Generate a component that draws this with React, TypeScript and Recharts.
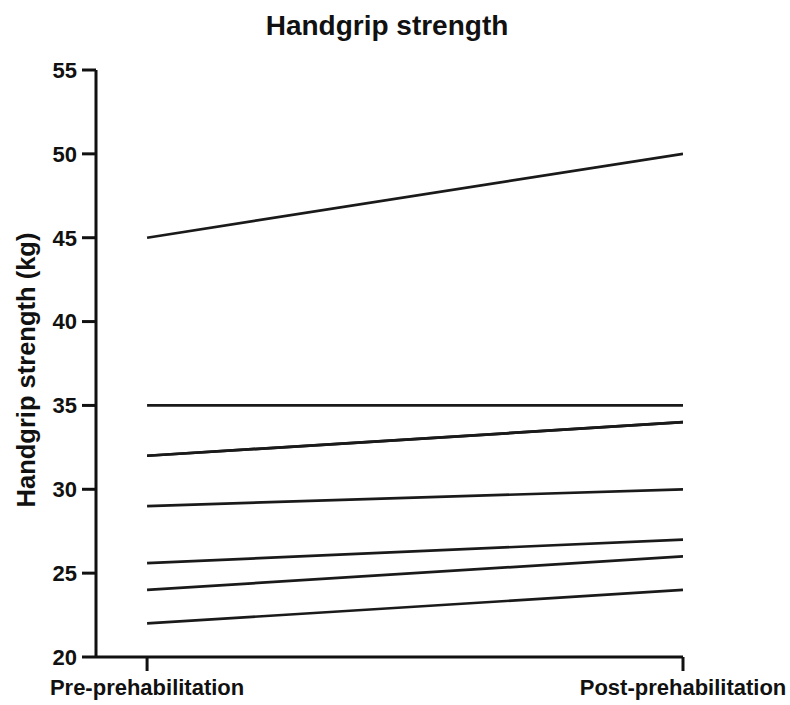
import React from 'react';
import { LineChart, Line, XAxis, YAxis } from 'recharts';

const timepoints = ['Pre-prehabilitation', 'Post-prehabilitation'];
const yTicks = [20, 25, 30, 35, 40, 45, 50, 55];

// one pair of values per participant (pre, post), in kg
const p1 = [45, 50];
const p2 = [35, 35];
const p3 = [32, 34];
const p4 = [32, 34];
const p5 = [29, 30];
const p6 = [25.6, 27];
const p7 = [24, 26];
const p8 = [22, 24];

const participants = [p1, p2, p3, p4, p5, p6, p7, p8];

const data = timepoints.map((_, i) => {
    const row: Record<string, number> = { x: i };
    participants.forEach((p, j) => {
        row['p' + (j + 1)] = p[i];
    });
    return row;
});

const font = '"Liberation Sans", Arial, sans-serif';
const ink = '#111';

const App = () => {
    return (
        <div style={{ position: 'absolute', left: 0, top: 0, width: 790, height: 705 }}>
            <LineChart
                width={790}
                height={705}
                data={data}
                margin={{ top: 70, right: 107, left: 0, bottom: 0 }}
            >
                <XAxis
                    type="number"
                    dataKey="x"
                    domain={[-0.0953, 1]}
                    ticks={[0, 1]}
                    interval={0}
                    allowDataOverflow
                    tickFormatter={(v: number) => timepoints[v]}
                    height={48}
                    tickSize={14}
                    tickMargin={8}
                    axisLine={{ stroke: ink, strokeWidth: 3 }}
                    tickLine={{ stroke: ink, strokeWidth: 3 }}
                    tick={{ fill: ink, fontSize: 22, fontWeight: 'bold', fontFamily: font }}
                />
                <YAxis
                    type="number"
                    domain={[20, 55]}
                    ticks={yTicks}
                    interval={0}
                    width={96}
                    tickSize={14}
                    tickMargin={5}
                    axisLine={{ stroke: ink, strokeWidth: 3 }}
                    tickLine={{ stroke: ink, strokeWidth: 3 }}
                    tick={{ fill: ink, fontSize: 22, fontWeight: 'bold', fontFamily: font }}
                />
                {participants.map((_, j) => (
                    <Line
                        key={j}
                        type="linear"
                        dataKey={'p' + (j + 1)}
                        stroke="#1a1a1a"
                        strokeWidth={2.7}
                        dot={false}
                        activeDot={false}
                        isAnimationActive={false}
                    />
                ))}
            </LineChart>
            <svg
                width={790}
                height={705}
                style={{ position: 'absolute', left: 0, top: 0, pointerEvents: 'none' }}
            >
                <text
                    x={387}
                    y={35}
                    textAnchor="middle"
                    fontFamily={font}
                    fontWeight="bold"
                    fontSize={28}
                    fill={ink}
                >
                    Handgrip strength
                </text>
                <text
                    x={0}
                    y={0}
                    transform="translate(35, 370) rotate(-90)"
                    textAnchor="middle"
                    fontFamily={font}
                    fontWeight="bold"
                    fontSize={25.5}
                    fill={ink}
                >
                    Handgrip strength (kg)
                </text>
            </svg>
        </div>
    );
};

export default App;
